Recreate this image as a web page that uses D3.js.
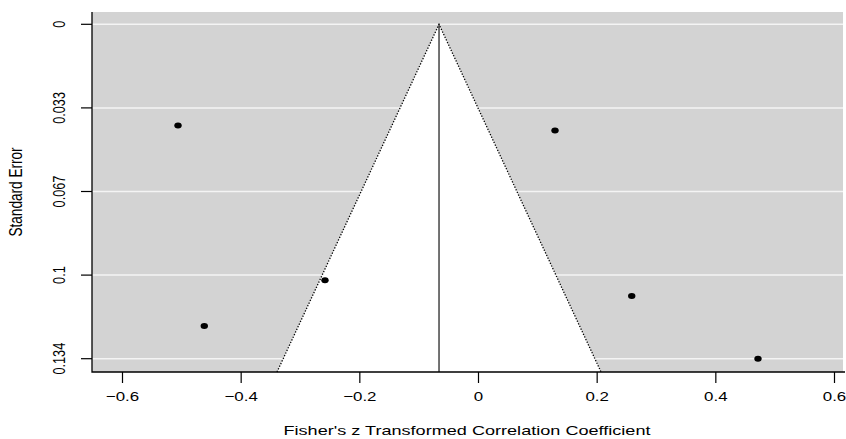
<!DOCTYPE html>
<html>
<head>
<meta charset="utf-8">
<script src="https://cdn.jsdelivr.net/npm/d3@7"></script>
<style>
  body { margin: 0; background: #fff; }
  svg { display: block; font-family: "Liberation Sans", Arial, sans-serif; }
</style>
</head>
<body>
<svg width="846" height="439"></svg>
<script>
// study effects (Fisher's z) and their standard errors
const estimates = [-0.5056, 0.1298, -0.2579, -0.4613, 0.2591, 0.4719];
const standardErrors = [0.0406, 0.0426, 0.1026, 0.1209, 0.1089, 0.134];
const pooledEstimate = -0.0657;

const xTicks = [-0.6, -0.4, -0.2, 0, 0.2, 0.4, 0.6];
const yTicks = [0, 0.0335, 0.067, 0.1005, 0.134];
const yTickLabels = ['0', '0.033', '0.067', '0.1', '0.134'];

// plot box, the picture is stretched sideways a bit so text gets a scaleX
const boxLeft = 92, boxRight = 843, boxTop = 12, boxBottom = 372;
const stretch = 1.33;

const svg = d3.select('svg');

const xScale = d3.scaleLinear().domain([-0.6, 0.6]).range([122, 834]);
const yScale = d3.scaleLinear().domain([0, 0.134]).range([24.3, 358.7]);
const seBottom = yScale.invert(boxBottom);

// grey background
svg.append('rect')
  .attr('x', boxLeft).attr('y', boxTop)
  .attr('width', boxRight - boxLeft).attr('height', boxBottom - boxTop)
  .attr('fill', '#d3d3d3');

// white grid lines at the y ticks
svg.append('g').selectAll('line').data(yTicks).enter().append('line')
  .attr('x1', boxLeft).attr('x2', boxRight)
  .attr('y1', d => yScale(d)).attr('y2', d => yScale(d))
  .attr('stroke', '#f4f4f4').attr('stroke-width', 1.5);

// white funnel (pseudo 95% region)
const funnel = [
  [pooledEstimate - 1.96 * seBottom, seBottom],
  [pooledEstimate, 0],
  [pooledEstimate + 1.96 * seBottom, seBottom]
];
const funnelLine = d3.line().x(d => xScale(d[0])).y(d => yScale(d[1]));
svg.append('path')
  .attr('d', funnelLine(funnel) + 'Z')
  .attr('fill', '#fff');

svg.append('path')
  .attr('d', funnelLine(funnel))
  .attr('fill', 'none')
  .attr('stroke', '#000').attr('stroke-width', 1.3)
  .attr('stroke-dasharray', '1.3,1.6');

// vertical line at the pooled estimate
svg.append('line')
  .attr('x1', xScale(pooledEstimate)).attr('x2', xScale(pooledEstimate))
  .attr('y1', yScale(0)).attr('y2', boxBottom)
  .attr('stroke', '#000').attr('stroke-width', 1.1);

// study points
svg.append('g').selectAll('ellipse').data(estimates).enter().append('ellipse')
  .attr('cx', d => xScale(d))
  .attr('cy', (d, i) => yScale(standardErrors[i]))
  .attr('rx', 3.7).attr('ry', 3)
  .attr('fill', '#000');

// x axis
const xAxis = svg.append('g')
  .attr('transform', `translate(0, ${boxBottom})`)
  .call(d3.axisBottom(xScale).tickValues(xTicks).tickSize(11).tickPadding(9)
    .tickFormat(d => d === 0 ? '0' : d3.format('.1f')(d)));
xAxis.select('.domain').remove();
xAxis.selectAll('line').attr('stroke', '#000').attr('stroke-width', 1.2);
xAxis.selectAll('text')
  .attr('font-size', 12.7).attr('fill', '#000')
  .attr('font-family', '"Liberation Sans", Arial, sans-serif')
  .attr('transform', `scale(${stretch},1)`);

// y axis with rotated labels
const yAxis = svg.append('g').attr('transform', `translate(${boxLeft}, 0)`);
yAxis.selectAll('line').data(yTicks).enter().append('line')
  .attr('x1', -11).attr('x2', 0)
  .attr('y1', d => yScale(d)).attr('y2', d => yScale(d))
  .attr('stroke', '#000').attr('stroke-width', 1.2);
yAxis.selectAll('text').data(yTicks).enter().append('text')
  .attr('transform', d => `translate(-27, ${yScale(d)}) scale(${stretch},1) rotate(-90)`)
  .attr('text-anchor', 'middle')
  .attr('font-size', 12.7)
  .text((d, i) => yTickLabels[i]);

// L shaped box
svg.append('path')
  .attr('d', `M${boxLeft},${boxTop}V${boxBottom}H${boxRight + 2}`)
  .attr('fill', 'none').attr('stroke', '#000').attr('stroke-width', 1.3);

// axis titles
svg.append('text')
  .attr('transform', `translate(467, 435) scale(${stretch},1)`)
  .attr('text-anchor', 'middle')
  .attr('font-size', 13.6)
  .text("Fisher's z Transformed Correlation Coefficient");

svg.append('text')
  .attr('transform', `translate(22, 192) scale(${stretch},1) rotate(-90)`)
  .attr('text-anchor', 'middle')
  .attr('font-size', 13.6)
  .text('Standard Error');
</script>
</body>
</html>
